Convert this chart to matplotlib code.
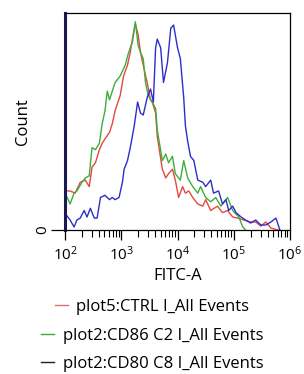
import numpy as np
import matplotlib
matplotlib.use("Agg")
import matplotlib.pyplot as plt

plt.rcParams['font.family'] = ['Open Sans', 'DejaVu Sans']
plt.rcParams['mathtext.fontset'] = 'custom'
plt.rcParams['mathtext.rm'] = 'Open Sans'

# FITC-A positions given as log10 decades, counts
ctrl_dec = [2.02, 2.09, 2.18, 2.27, 2.36, 2.43, 2.48, 2.54, 2.61, 2.66, 2.71, 2.79, 2.84, 2.89,
            2.98, 3.04, 3.11, 3.16, 3.21, 3.25, 3.30, 3.34, 3.39, 3.46, 3.52, 3.55, 3.61, 3.64,
            3.73, 3.79, 3.84, 3.91, 3.96, 4.02, 4.09, 4.14, 4.20, 4.27, 4.36, 4.45, 4.50, 4.59,
            4.71, 4.80, 4.89, 4.98, 5.07, 5.18, 5.30, 5.39, 5.48, 5.57, 5.66, 5.79]
ctrl_cnt = [18, 18, 17, 22, 23, 20, 29, 31, 37, 40, 42, 45, 49, 55,
            62, 71, 76, 82, 90, 95, 90, 82, 76, 68, 60, 59, 54, 43,
            28, 24, 26, 28, 23, 15, 20, 17, 18, 15, 12, 11, 14, 9,
            11, 8, 9, 6, 5.5, 4.6, 3.7, 3.7, 1.8, 3.7, 0.9, 0]

cd86_dec = [2.02, 2.09, 2.16, 2.21, 2.30, 2.36, 2.43, 2.48, 2.54, 2.61, 2.66, 2.71, 2.75, 2.79,
            2.84, 2.89, 2.98, 3.07, 3.12, 3.20, 3.25, 3.30, 3.34, 3.39, 3.43, 3.48, 3.55, 3.61,
            3.64, 3.73, 3.79, 3.84, 3.91, 3.96, 4.05, 4.11, 4.18, 4.27, 4.36, 4.41, 4.50, 4.59,
            4.68, 4.77, 4.89, 4.98, 5.09, 5.16, 5.21]
cd86_cnt = [16, 12, 17, 18, 22, 24, 25, 38, 37, 40, 49, 55, 64, 60,
            64, 68, 71, 76, 81, 87, 96, 85, 82, 79, 68, 62, 59, 56,
            46, 32, 35, 31, 34, 26, 23, 32, 24, 20, 17, 20, 15, 13,
            15, 11, 15, 9, 6, 1.4, 0]

cd80_dec = [2.02, 2.09, 2.16, 2.21, 2.27, 2.34, 2.39, 2.45, 2.52, 2.57, 2.63, 2.71, 2.79, 2.84,
            2.89, 2.96, 3.02, 3.05, 3.11, 3.16, 3.23, 3.29, 3.34, 3.39, 3.46, 3.52, 3.57, 3.61,
            3.64, 3.70, 3.75, 3.82, 3.88, 3.93, 4.00, 4.05, 4.11, 4.14, 4.18, 4.23, 4.29, 4.36,
            4.45, 4.50, 4.59, 4.64, 4.73, 4.80, 4.86, 4.91, 4.98, 5.04, 5.13, 5.21, 5.30, 5.39,
            5.48, 5.57, 5.66, 5.75, 5.82]
cd80_cnt = [7, 4.6, 1.4, 4.6, 5.5, 9, 6, 10, 5.5, 5.5, 15, 16, 14, 15,
            14, 15, 22, 28, 32, 38, 48, 59, 54, 53, 61, 65, 59, 84,
            88, 84, 68, 77, 93, 94.5, 84, 79, 61, 48, 41, 34, 32, 23,
            22, 20, 23, 17, 18, 12, 14, 9, 11, 8, 6, 4.6, 3.2, 4.6,
            2.3, 2.3, 3.7, 5.5, 0]

labels = ["plot5:CTRL I_All Events", "plot2:CD86 C2 I_All Events", "plot2:CD80 C8 I_All Events"]
colors = ["#e4483f", "#3cae3c", "#2d2dcc"]
legend_colors = ["#e07070", "#3aa83a", "#222222"]
decades = [2, 3, 4, 5, 6]

fig = plt.figure(figsize=(3.04, 3.74), dpi=100)
ax = fig.add_axes([0.214, 0.385, 0.74, 0.58])

series = [(ctrl_dec, ctrl_cnt), (cd86_dec, cd86_cnt), (cd80_dec, cd80_cnt)]
for (dec, cnt), c in zip(series, colors):
    ax.plot(10 ** np.array(dec), cnt, color=c, lw=1.0)

ax.set_xscale('log')
ax.set_xlim(1e2, 1e6)
ax.set_ylim(0, 100)
ax.set_xticks([10.0 ** d for d in decades])
ax.set_xticklabels([r'$\mathregular{10^{%d}}$' % d for d in decades])
ax.set_yticks([0])
ax.set_yticklabels(['0'], rotation=90, va='center')
ax.tick_params(axis='x', which='major', length=7, width=0.9, labelsize=11, pad=4)
ax.tick_params(axis='x', which='minor', length=5, width=0.8)
ax.tick_params(axis='y', length=10, width=0.9, labelsize=11, pad=1)
for sp in ax.spines.values():
    sp.set_linewidth(0.9)
ax.spines['left'].set_linewidth(2.2)
ax.spines['left'].set_color('#1a1a50')

ax.set_xlabel('FITC-A', fontsize=12, labelpad=3)
ax.set_ylabel('Count', fontsize=12, labelpad=3)

# one legend per row so every row is centred like the original
row_y = [0.179, 0.101, 0.027]
for lab, c, y in zip(labels, legend_colors, row_y):
    h = plt.Line2D([], [], color=c, lw=1)
    fig.legend([h], [lab], loc='center', bbox_to_anchor=(0.5, y),
               frameon=False, fontsize=12, handlelength=0.8, handletextpad=0.5,
               borderpad=0, borderaxespad=0)

fig.savefig('out.png', dpi=100)
